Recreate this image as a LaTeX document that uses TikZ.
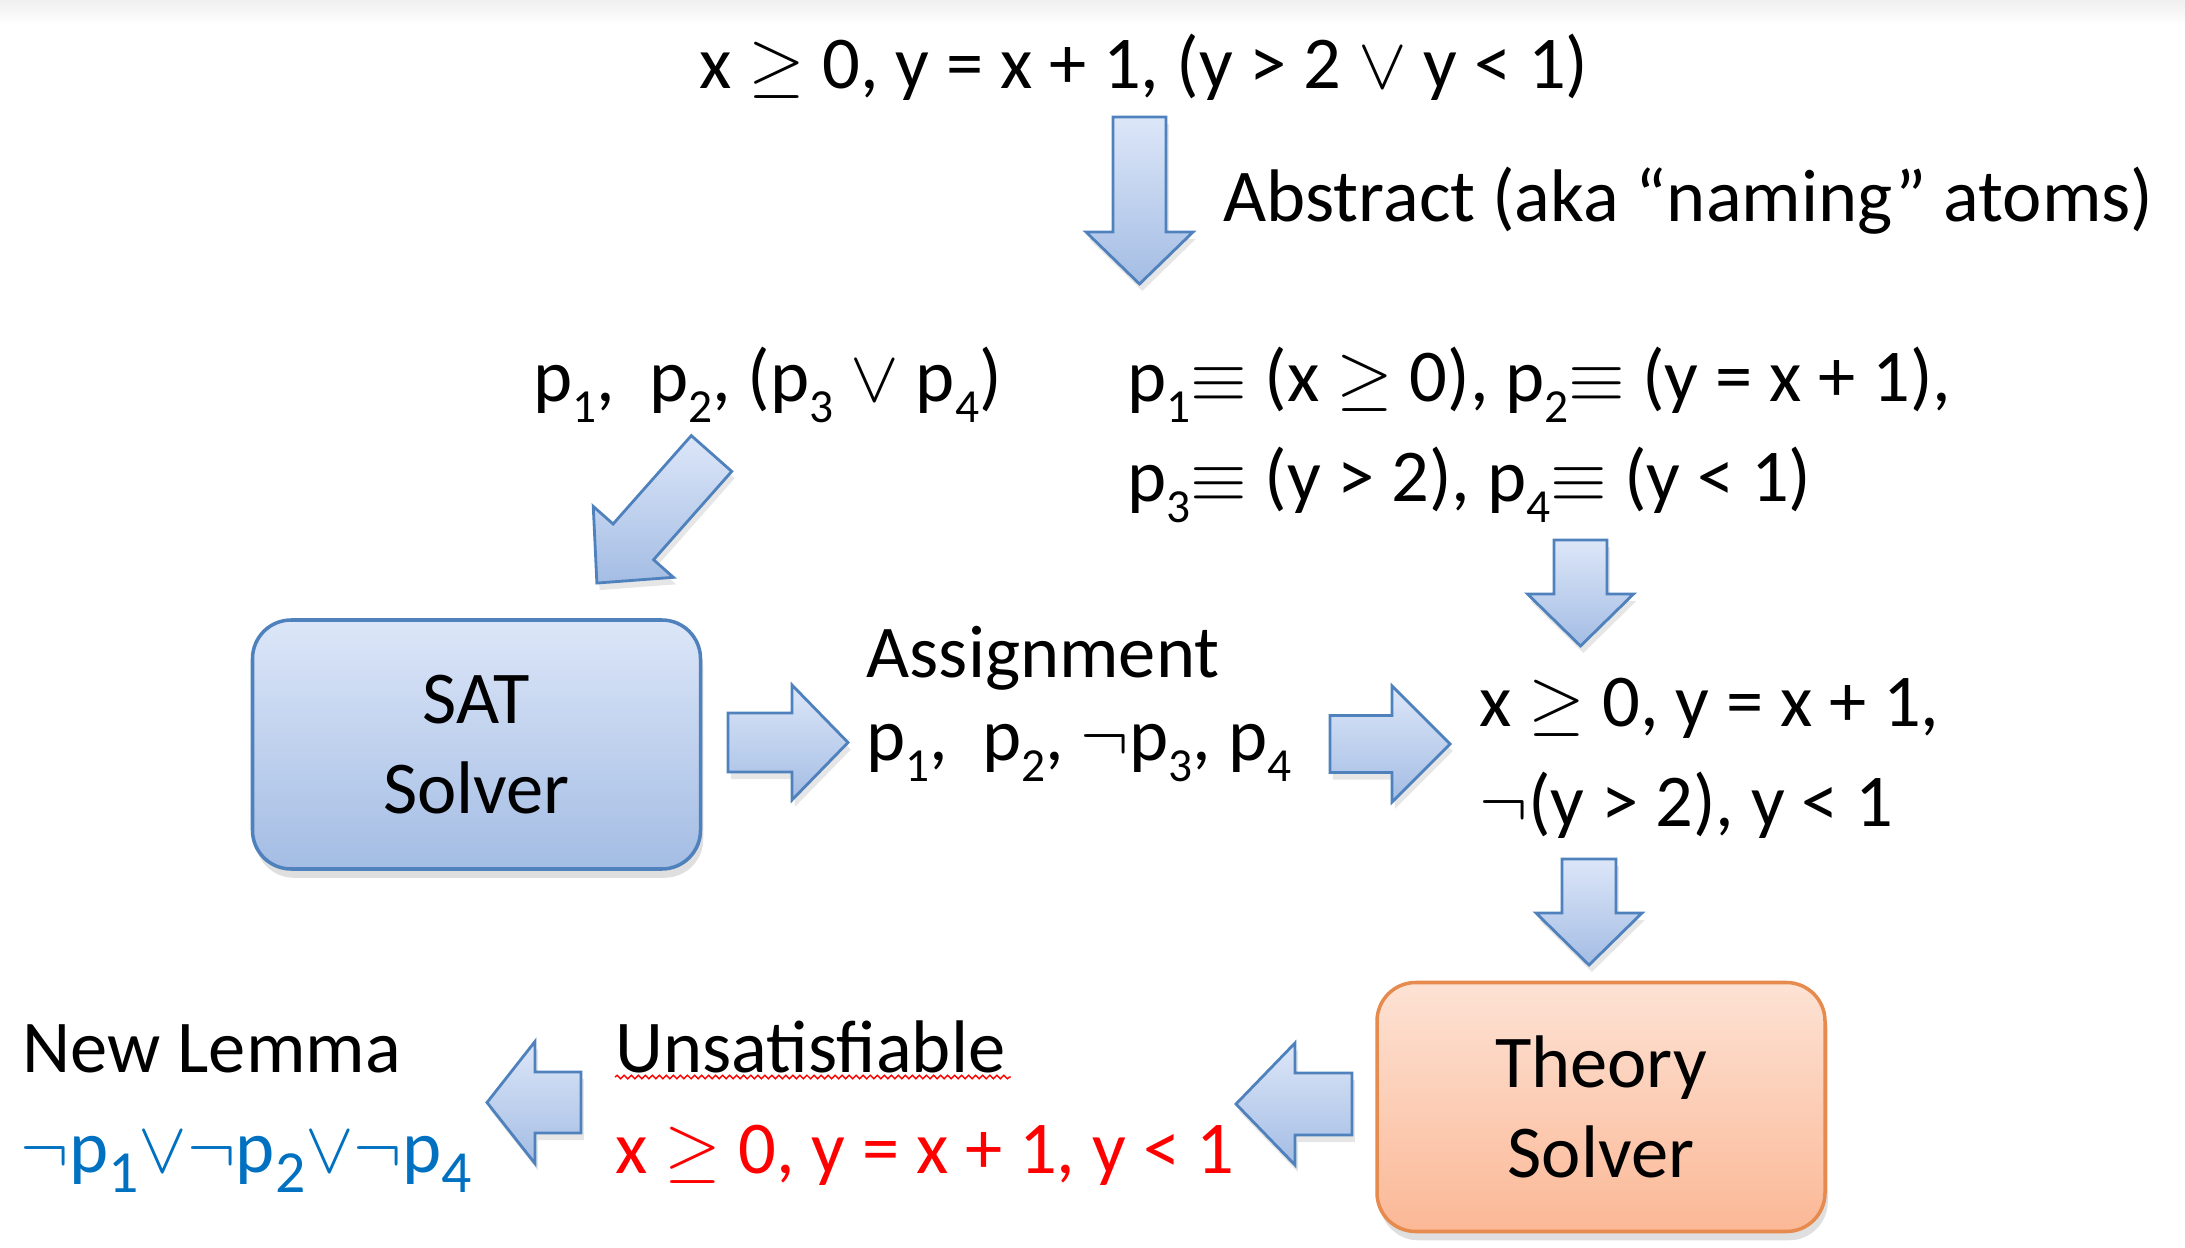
\documentclass[tikz,border=0pt]{standalone}
\usepackage{fontspec}
\setmainfont{Carlito}
\usetikzlibrary{shadows,decorations.pathmorphing}
\definecolor{sky}{RGB}{79,129,189}
\definecolor{skytop}{RGB}{220,230,248}
\definecolor{skybot}{RGB}{164,189,228}
\definecolor{peach}{RGB}{230,138,78}
\definecolor{peachtop}{RGB}{253,226,212}
\definecolor{peachbot}{RGB}{251,184,150}
\definecolor{lemma}{RGB}{0,112,192}
\newcommand{\slidefont}{\fontsize{21.2}{25.6}\selectfont}
% lowered index, as on the slide
\newcommand{\ix}[2][13.5]{\raisebox{-0.27em}{\fontsize{#1}{#1}\selectfont #2}}
\tikzset{
  txt/.style={font=\slidefont,inner sep=0pt,anchor=base west},
  solver/.style={draw=#1,line width=1pt,rounded corners=11pt,top color=#1top,bottom color=#1bot,
    minimum width=44.8mm,minimum height=24.9mm,align=center,font=\slidefont,
    drop shadow={shadow xshift=0.8pt,shadow yshift=-2.5pt,opacity=0.25}},
  solver/.default=sky,
  barrow/.style={draw=sky,line width=0.8pt,top color=skytop,bottom color=skybot,
    drop shadow={shadow xshift=0.8pt,shadow yshift=-2pt,opacity=0.2}},
  squiggle/.style={red,line width=0.4pt,decorate,decoration={snake,amplitude=0.5pt,segment length=2pt}},
  % block arrow: length/shaft/head/head length, pointing along +x
  pics/blockarrow/.style args={#1/#2/#3/#4}{code={
    \path[barrow] (0,-#2/2) -- (#1-#4,-#2/2) -- (#1-#4,-#3/2) -- (#1,0)
      -- (#1-#4,#3/2) -- (#1-#4,#2/2) -- (0,#2/2) -- cycle;
  }},
}

\begin{document}
\begin{tikzpicture}
  \useasboundingbox (0,0) rectangle (21.85,-12.48);
  \shade[top color=black!6,bottom color=white] (0,0) rectangle (21.85,-0.25);

  % input formula, abstraction
  \node[txt] (orig) at (6.99,-0.89) {x $\geq$ 0, y = x + 1, (y > 2 $\vee$ y < 1)};
  \pic[rotate=-90] at (11.395,-1.17) {blockarrow=1.67/0.53/1.07/0.52};
  \node[txt] (abstr) at (12.23,-2.22) {Abstract (aka “naming” atoms)};
  \node[txt] (bool) at (5.33,-4.02) {p\ix{1},~ p\ix{2}, (p\ix{3} $\vee$ p\ix{4})};
  \node[txt] (defa) at (11.27,-4.02) {p\ix{1}$\equiv$ (x $\geq$ 0), p\ix{2}$\equiv$ (y = x + 1),};
  \node[txt] (defb) at (11.27,-5.02) {p\ix{3}$\equiv$ (y > 2), p\ix{4}$\equiv$ (y < 1)};
  \pic[rotate=228.5] at (7.115,-4.535) {blockarrow=1.73/0.54/1.07/0.55};

  % SAT solver and assignment
  \node[solver=sky] (sat) at (4.765,-7.445) {SAT\\Solver};
  \pic at (7.28,-7.425) {blockarrow=1.20/0.59/1.15/0.56};
  \node[txt] (assign) at (8.66,-6.78) {Assignment};
  \node[txt] (model) at (8.66,-7.61) {p\ix{1},~ p\ix{2}, $\neg$p\ix{3}, p\ix{4}};
  \pic at (13.30,-7.44) {blockarrow=1.20/0.57/1.16/0.58};
  \pic[rotate=-90] at (15.805,-5.40) {blockarrow=1.06/0.53/1.06/0.52};
  \node[txt] (lits) at (14.79,-7.27) {x $\geq$ 0, y = x + 1,};
  \node[txt] (litsb) at (14.79,-8.27) {$\neg$(y > 2), y < 1};
  \pic[rotate=-90] at (15.89,-8.59) {blockarrow=1.06/0.54/1.06/0.52};

  % theory solver, conflict, lemma
  \node[solver=peach] (theory) at (16.01,-11.07) {Theory\\Solver};
  \pic[rotate=180] at (13.52,-11.04) {blockarrow=1.16/0.62/1.22/0.59};
  \node[txt] (unsat) at (6.15,-10.72) {Unsatisfiable};
  \draw[squiggle] ([yshift=-0.5mm]unsat.base west) -- ([xshift=0.5mm,yshift=-0.5mm]unsat.base east);
  \node[txt,text=red] (core) at (6.15,-11.73) {x $\geq$ 0, y = x + 1, y < 1};
  \pic[rotate=180] at (5.81,-11.025) {blockarrow=0.94/0.61/1.22/0.48};
  \node[txt] (lemma) at (0.22,-10.72) {New Lemma};
  \node[txt,text=lemma] (clause) at (0.20,-11.72) {$\neg$p\ix[17]{1}$\vee\neg$p\ix[17]{2}$\vee\neg$p\ix[17]{4}};
\end{tikzpicture}
\end{document}
